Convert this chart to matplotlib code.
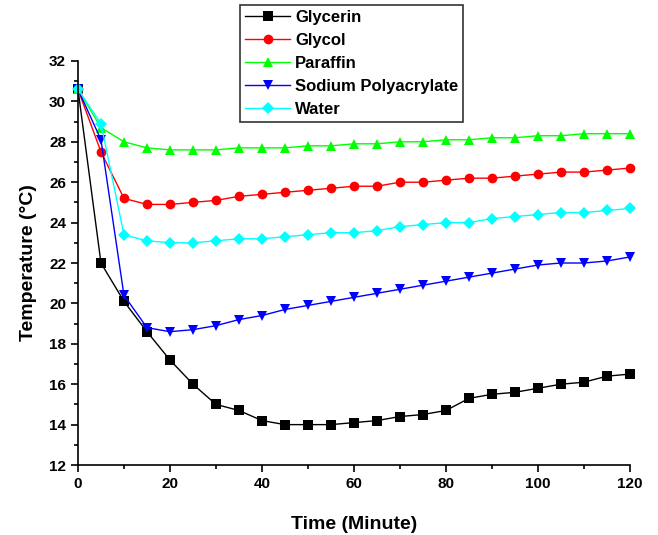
import numpy as np
import matplotlib
matplotlib.use('Agg')
import matplotlib.pyplot as plt
from matplotlib.ticker import MultipleLocator

plt.rcParams['font.family'] = ['Liberation Sans', 'DejaVu Sans']
plt.rcParams['font.weight'] = 'bold'

# Time points (minutes)
time = list(range(0, 121, 5))

# Temperature readings for each material
glycerin = [30.6, 22.0, 20.1, 18.6, 17.2, 16.0, 15.0, 14.7, 14.2, 14.0, 14.0, 14.0, 14.1,
            14.2, 14.4, 14.5, 14.7, 15.3, 15.5, 15.6, 15.8, 16.0, 16.1, 16.4, 16.5]
glycol = [30.6, 27.5, 25.2, 24.9, 24.9, 25.0, 25.1, 25.3, 25.4, 25.5, 25.6, 25.7, 25.8,
          25.8, 26.0, 26.0, 26.1, 26.2, 26.2, 26.3, 26.4, 26.5, 26.5, 26.6, 26.7]
paraffin = [30.6, 28.7, 28.0, 27.7, 27.6, 27.6, 27.6, 27.7, 27.7, 27.7, 27.8, 27.8, 27.9,
            27.9, 28.0, 28.0, 28.1, 28.1, 28.2, 28.2, 28.3, 28.3, 28.4, 28.4, 28.4]
sodium = [30.6, 28.1, 20.4, 18.8, 18.6, 18.7, 18.9, 19.2, 19.4, 19.7, 19.9, 20.1, 20.3,
          20.5, 20.7, 20.9, 21.1, 21.3, 21.5, 21.7, 21.9, 22.0, 22.0, 22.1, 22.3]
water = [30.6, 28.9, 23.4, 23.1, 23.0, 23.0, 23.1, 23.2, 23.2, 23.3, 23.4, 23.5, 23.5,
         23.6, 23.8, 23.9, 24.0, 24.0, 24.2, 24.3, 24.4, 24.5, 24.5, 24.6, 24.7]

series = [
    ('Glycerin', glycerin, 'black', 's'),
    ('Glycol', glycol, 'red', 'o'),
    ('Paraffin', paraffin, '#00ff00', '^'),
    ('Sodium Polyacrylate', sodium, 'blue', 'v'),
    ('Water', water, 'cyan', 'D'),
]

fig = plt.figure(figsize=(6.58, 5.35), dpi=100)
ax = fig.add_axes([0.1185, 0.1308, 0.8389, 0.7552])

for name, vals, col, mk in series:
    ms = 6.5 if mk == 'D' else 7
    ax.plot(time, vals, color=col, marker=mk, markersize=ms, linewidth=1,
            markeredgewidth=0, label=name, clip_on=False)

ax.set_xlim(0, 120)
ax.set_ylim(12, 32)
ax.xaxis.set_major_locator(MultipleLocator(20))
ax.xaxis.set_minor_locator(MultipleLocator(10))
ax.yaxis.set_major_locator(MultipleLocator(2))
ax.yaxis.set_minor_locator(MultipleLocator(1))

ax.spines['top'].set_visible(False)
ax.spines['right'].set_visible(False)
for s in ['left', 'bottom']:
    ax.spines[s].set_linewidth(1.2)
ax.tick_params(which='major', direction='out', length=5, width=1.2, labelsize=11)
ax.tick_params(which='minor', direction='out', length=3, width=1.2)
for lab in ax.get_xticklabels() + ax.get_yticklabels():
    lab.set_fontweight('bold')

ax.set_xlabel('Time (Minute)', fontsize=14, fontweight='bold', labelpad=18)
ax.set_ylabel('Temperature (°C)', fontsize=14, fontweight='bold', labelpad=9)

leg = fig.legend(loc='upper left', bbox_to_anchor=(0.365, 0.991), fontsize=12,
                 frameon=True, fancybox=False, edgecolor='black', handlelength=2.7,
                 handletextpad=0.3, borderpad=0.3, labelspacing=0.48, borderaxespad=0)
leg.get_frame().set_linewidth(1.2)
for t in leg.get_texts():
    t.set_fontweight('bold')

fig.savefig('out.png', dpi=100)
